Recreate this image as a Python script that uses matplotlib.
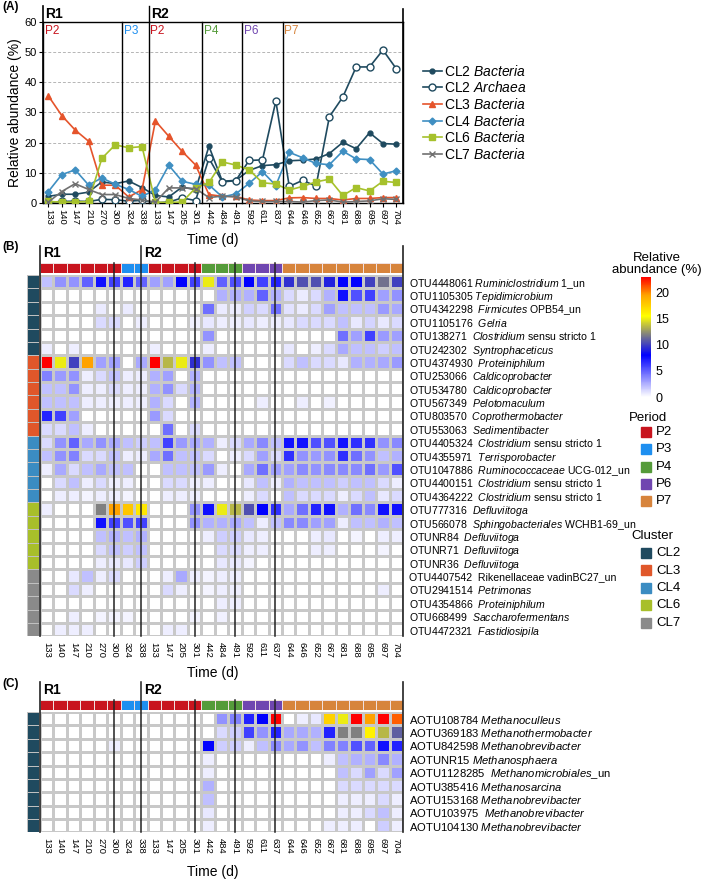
import numpy as np
import matplotlib
matplotlib.use("Agg")
import matplotlib.pyplot as plt
import matplotlib.transforms as mtransforms
from matplotlib.colors import LinearSegmentedColormap, ListedColormap, Normalize
from matplotlib.cm import ScalarMappable
from matplotlib.patches import Rectangle

plt.rcParams['font.family'] = ['Liberation Sans', 'DejaVu Sans']
plt.rcParams['mathtext.fontset'] = 'custom'
plt.rcParams['mathtext.rm'] = 'Liberation Sans'
plt.rcParams['mathtext.it'] = 'Liberation Sans:italic'
plt.rcParams['mathtext.bf'] = 'Liberation Sans:bold'

# ── Sampling days, periods, reactors ─────────────────────────────────────
days_a = ['133', '140', '147', '210', '270', '300', '324', '338',
          '133', '147', '205', '301', '442', '484', '491', '592', '611', '837',
          '644', '646', '652', '667', '681', '688', '695', '697', '704']
days = ['133', '140', '147', '210', '270', '300', '324', '338',
        '133', '147', '205', '301', '442', '484', '491', '592', '611', '637',
        '644', '646', '652', '667', '681', '688', '695', '697', '704']
periods = ['P2'] * 6 + ['P3'] * 2 + ['P2'] * 4 + ['P4'] * 3 + ['P6'] * 3 + ['P7'] * 9
reactors = ['R1'] * 8 + ['R2'] * 19

period_colors = {'P2': '#c8141e', 'P3': '#1e8ff0', 'P4': '#559b3a',
                 'P6': '#7046b0', 'P7': '#d7843c'}
cluster_colors = {'CL2': '#1f4a5f', 'CL3': '#e0572a', 'CL4': '#3b8cc2',
                  'CL6': '#a8bf2a', 'CL7': '#8a8a8a'}

# ── Panel A: cluster abundance (%) ───────────────────────────────────────
cl2_bacteria = [2.2, 2.9, 2.9, 3.6, 7.0, 6.4, 7.3, 5.1, 2.5, 2.0, 5.3, 4.4,
                18.8, 7.2, 7.5, 10.8, 12.4, 12.7, 14.0, 14.2, 14.6, 16.4,
                20.1, 18.0, 23.3, 19.7, 19.5]
cl2_archaea = [0.2, 0.5, 0.6, 0.5, 1.2, 1.1, 0.6, 0.9, 0.1, 0.3, 1.7, 0.8,
               14.8, 7.0, 7.4, 14.1, 14.3, 33.8, 5.5, 7.5, 5.6, 28.6,
               35.1, 45.1, 45.1, 50.7, 44.5]
cl3_bacteria = [35.5, 29.0, 24.2, 20.5, 5.9, 5.9, 2.0, 4.4, 27.2, 22.1, 17.1,
                12.6, 2.8, 2.2, 2.2, 1.0, 0.8, 0.8, 1.7, 1.8, 1.5, 1.5, 1.0,
                1.5, 1.5, 1.8, 1.8]
cl4_bacteria = [3.8, 9.4, 11.0, 6.0, 8.3, 6.2, 4.5, 2.2, 4.4, 12.5, 7.2, 6.2,
                6.0, 2.0, 3.0, 6.5, 10.4, 5.8, 16.8, 15.0, 13.1, 12.7, 17.2,
                14.6, 14.4, 9.6, 10.7]
cl6_bacteria = [0.5, 0.3, 0.3, 0.5, 14.8, 19.3, 18.3, 18.7, 0.2, 0.2, 0.3, 5.0,
                6.8, 13.6, 12.6, 11.0, 6.7, 6.3, 4.3, 5.5, 7.0, 7.9, 2.5, 5.1,
                4.0, 7.2, 6.8]
cl7_bacteria = [0.3, 3.8, 6.4, 4.5, 2.8, 2.8, 1.5, 1.0, 0.3, 5.0, 5.0, 4.8,
                1.8, 2.3, 2.0, 0.7, 0.5, 0.5, 0.5, 0.3, 0.8, 1.0, 0.3, 0.5,
                0.7, 1.4, 1.2]

# ── Panel B: bacterial OTUs ──────────────────────────────────────────────
otu_labels = [
    'OTU4448061 $\\it{Ruminiclostridium}$ 1_un',
    'OTU1105305 $\\it{Tepidimicrobium}$',
    'OTU4342298  $\\it{Firmicutes}$ OPB54_un',
    'OTU1105176  $\\it{Gelria}$',
    'OTU138271  $\\it{Clostridium}$ sensu stricto 1',
    'OTU242302  $\\it{Syntrophaceticus}$',
    'OTU4374930  $\\it{Proteiniphilum}$',
    'OTU253066  $\\it{Caldicoprobacter}$',
    'OTU534780  $\\it{Caldicoprobacter}$',
    'OTU567349  $\\it{Pelotomaculum}$',
    'OTU803570  $\\it{Coprothermobacter}$',
    'OTU553063  $\\it{Sedimentibacter}$',
    'OTU4405324  $\\it{Clostridium}$ sensu stricto 1',
    'OTU4355971  $\\it{Terrisporobacter}$',
    'OTU1047886  $\\it{Ruminococcaceae}$ UCG-012_un',
    'OTU4400151  $\\it{Clostridium}$ sensu stricto 1',
    'OTU4364222  $\\it{Clostridium}$ sensu stricto 1',
    'OTU777316  $\\it{Defluviitoga}$',
    'OTU566078  $\\it{Sphingobacteriales}$ WCHB1-69_un',
    'OTUNR84  $\\it{Defluviitoga}$',
    'OTUNR71  $\\it{Defluviitoga}$',
    'OTUNR36  $\\it{Defluviitoga}$',
    'OTU4407542  Rikenellaceae vadinBC27_un',
    'OTU2941514  $\\it{Petrimonas}$',
    'OTU4354866  $\\it{Proteiniphilum}$',
    'OTU668499  $\\it{Saccharofermentans}$',
    'OTU4472321  $\\it{Fastidiosipila}$',
]
otu_clusters = ['CL2'] * 6 + ['CL3'] * 6 + ['CL4'] * 5 + ['CL6'] * 5 + ['CL7'] * 5
z = [0] * 12
otu_values = [
    [2, 3.5, 3.5, 5, 7.5, 6, 7, 5, 3, 3, 8, 6, 15, 5, 5.5, 8, 6, 7, 9.5, 10.5, 10.5, 9, 8, 8, 10, 11.5, 10],
    z[:] + [0, 2.5, 2.5, 2.5, 5, 2.5, 1.2, 0.7, 1.2, 2.5, 7.5, 5.5, 6, 3, 3.5],
    [0, 0, 0, 0, 0.7, 0, 0.7, 0, 0, 0, 0, 0, 4.5, 0.7, 0.7, 1.5, 1.2, 4.5, 0.9, 0.7, 1.2, 3, 2, 2, 2, 3.2, 2.7],
    [0, 0, 0, 0, 1.2, 1.2, 0, 0.6, 0, 0, 0, 0.5, 0.8, 0.6, 0.6, 0.8, 0.6, 0.6, 0.8, 1.2, 1.2, 1.2, 2, 0.8, 1.4, 0.8, 1.2],
    z[:] + [3.5, 0, 0, 0, 0, 0, 0, 0, 0, 0, 4.5, 3, 6, 3.2, 3],
    [0.6, 0, 0.6, 0, 0, 0, 0, 0, 0.6, 0, 0, 0, 0.6, 0, 0, 0, 0, 0, 0.8, 0, 0.6, 1.2, 2.7, 2, 2, 1.6, 2],
    [23, 15, 10, 19.5, 3, 3, 0, 2.7, 23, 13.5, 15, 9.5, 3.5, 2, 2, 0, 0, 0, 1.2, 2, 1.2, 1.2, 0.8, 2.5, 2.5, 2.7, 3.2],
    [4, 3.2, 3.5, 0.6, 1.2, 2, 0.6, 0.6, 2.5, 3, 0, 2.5] + [0] * 15,
    [2, 2, 3.5, 0.6, 0.6, 1.2, 0.6, 0.6, 2.5, 3.5, 1.2, 2.5] + [0] * 15,
    [2, 2, 2, 0.6, 0.6, 0.6, 0.6, 0.6, 2.5, 1.2, 0, 2.5, 0, 0, 0, 0, 0.6, 0, 0, 0.6, 0, 0.5, 0, 0, 0, 0, 0],
    [7, 6, 3, 0, 0, 0, 0, 0, 3.2, 1.2, 0, 0] + [0] * 15,
    [1.2, 1.2, 2, 0.6, 0, 0, 0, 0, 0, 4.5, 0, 1.2] + [0] * 15,
    [1.2, 3.5, 5, 2.7, 3.5, 2.7, 2, 1.6, 2, 6, 3.2, 2.7, 2.5, 0.6, 1.2, 2.7, 3.7, 2, 7.5, 7.5, 5.5, 5.5, 7.5, 6.5, 6.5, 3.5, 3.7],
    [2, 3.5, 4, 1.2, 1.2, 2, 0.6, 0.6, 2.7, 4.5, 2, 2, 1.2, 0, 0.6, 1.2, 3, 1.2, 6.5, 3.5, 3.2, 3.5, 6.5, 4.5, 3.5, 2, 2.5],
    [0.6, 2.7, 1.2, 2, 2.7, 2, 2, 0, 0, 2, 2, 2, 3.2, 0.6, 0, 2.7, 4.5, 3, 3, 3.7, 3.5, 3.7, 3.7, 3.7, 4.5, 3.2, 5.5],
    [0, 1.2, 2, 0.6, 1.2, 0.6, 0.6, 0, 0, 1.2, 1.2, 0.6, 0.6, 0, 0, 0.8, 2, 0.6, 2.5, 2, 2, 2, 1.6, 2, 2, 1.2, 0.6],
    [0, 0.6, 0.6, 0.4, 0.6, 0.6, 0.4, 0, 0, 0.6, 0.6, 0.6, 0, 0, 0, 0.6, 1.2, 0, 2, 1.2, 1.2, 1.2, 0.6, 1.2, 2, 0.8, 1.2],
    [0.6, 0, 0, 0, 12, 19.5, 18, 16.5, 0, 0, 0, 3.5, 7.5, 15, 13.5, 10.5, 8, 6.5, 2.7, 4.5, 7, 7.5, 2.5, 4.5, 3.7, 7.5, 7.5],
    [0, 0, 0, 0, 7.5, 6, 5.5, 6, 0, 0, 0, 3.5, 2.5, 2.5, 2.7, 2, 0.6, 2, 3.7, 3.7, 3, 3, 0.6, 2, 2, 2.5, 2],
    [0, 0, 0, 0, 2, 2.5, 2, 2.5, 0, 0, 0, 0, 0.6, 1.6, 1.6, 0.8, 0.6, 0, 0, 0, 0.6, 0.8, 0, 0.4, 0, 0.6, 0.6],
    [0, 0, 0, 0, 1.2, 2, 1.6, 2, 0, 0, 0, 0, 0, 1.2, 1.2, 0.6, 0.6, 0, 0, 0, 0.6, 0.6, 0, 0, 0, 0.4, 0],
    [0, 0, 0, 0, 0.6, 0.8, 0.8, 1.6, 0, 0, 0, 0, 0, 0.8, 0.8, 0.4] + [0] * 11,
    [0, 0, 0.8, 2, 0.6, 1.2, 0, 0, 0, 0.6, 2.7, 0.6, 0.4, 0.6, 0.6] + [0] * 12,
    [0, 0, 1.2, 0.6, 0, 0, 0, 0, 0, 1.2, 0.6, 0, 0.4, 0.6, 0.6] + [0] * 10 + [0.6, 0],
    z[:] + [0, 0.6, 0.6] + [0] * 12,
    [0, 0, 0.6, 0, 0.4, 0.4, 0.4, 0, 0, 0, 0, 0.4, 0, 0.5] + [0] * 13,
    [0, 0.6, 0.6, 0.6, 0, 0, 0, 0, 0, 0.6, 0.6] + [0] * 16,
]

# ── Panel C: archaeal OTUs ───────────────────────────────────────────────
aotu_labels = [
    'AOTU108784 $\\it{Methanoculleus}$',
    'AOTU369183 $\\it{Methanothermobacter}$',
    'AOTU842598 $\\it{Methanobrevibacter}$',
    'AOTUNR15 $\\it{Methanosphaera}$',
    'AOTU1128285  $\\it{Methanomicrobiales}$_un',
    'AOTU385416 $\\it{Methanosarcina}$',
    'AOTU153168 $\\it{Methanobrevibacter}$',
    'AOTU103975  $\\it{Methanobrevibacter}$',
    'AOTU104130 $\\it{Methanobrevibacter}$',
]
aotu_clusters = ['CL2'] * 9
aotu_values = [
    z[:] + [0, 3.5, 4, 7, 8, 23, 0, 0.6, 0.8, 17.5, 15, 23, 19.5, 23, 21],
    z[:] + [0, 1.2, 1.6, 6, 3.5, 7, 2.7, 2.7, 2.5, 7, 12, 12, 16, 13.5, 11],
    [0, 0, 0, 0, 0, 0.6, 0, 0, 0, 0, 0, 0, 8, 1.6, 1.6, 0.6, 2, 3.7, 2.7, 3.5, 2, 4, 4, 5.5, 5, 7.5, 7],
    z[:] + [0.6, 0, 0, 0, 0, 0, 0, 0, 0, 0.6, 2, 2.5, 2.5, 3.7, 2.5],
    z[:] + [0.6, 0, 0, 0, 0, 0, 0, 0, 0, 0, 2, 1.2, 3, 1.2, 3],
    z[:] + [2.5, 0, 0, 0, 0, 0, 0, 0, 0, 0, 1.2, 1.2, 1.2, 1.2, 1.2],
    z[:] + [2, 0, 0, 0, 0, 0, 0, 0, 0, 0, 0.6, 0.6, 0.6, 1.2, 0.6],
    z[:] + [0.8, 0, 0, 0, 0, 0, 0, 0, 0, 0, 0.6, 0.6, 1.2, 2, 0.6],
    z[:] + [0.6, 0, 0, 0, 0, 0, 0, 0, 0, 0.6, 0.6, 0.6, 0, 1.6, 0.6],
]

# ── Layout helpers (pixel coordinates of the 709x880 figure) ─────────────
W, H = 709, 880
fig = plt.figure(figsize=(W / 100, H / 100), dpi=100)


def px_axes(x0, y0, x1, y1):
    return fig.add_axes([x0 / W, 1 - y1 / H, (x1 - x0) / W, (y1 - y0) / H])


VMAX = 23
cmap = LinearSegmentedColormap.from_list('abund', [
    (0.0, '#ffffff'), (8 / VMAX, '#0000ff'), (12 / VMAX, '#808080'),
    (15.5 / VMAX, '#ffff00'), (19.5 / VMAX, '#ffa500'), (1.0, '#ff0000')])
norm = Normalize(0, VMAX)

n = len(days)
period_bounds = [i + 0.5 for i in range(n - 1)
                 if periods[i] != periods[i + 1] or reactors[i] != reactors[i + 1]]
reactor_bounds = [i + 0.5 for i in range(n - 1) if reactors[i] != reactors[i + 1]]
period_starts = [0] + [i + 1 for i in range(n - 1)
                       if periods[i] != periods[i + 1] or reactors[i] != reactors[i + 1]]
reactor_starts = [0] + [i + 1 for i in range(n - 1) if reactors[i] != reactors[i + 1]]

# ── (A) line chart ───────────────────────────────────────────────────────
ax = px_axes(43, 22, 403, 203)
x = np.arange(n)
series = [
    ('CL2 $\\it{Bacteria}$', cl2_bacteria, cluster_colors['CL2'], 'o', None, 3.5),
    ('CL2 $\\it{Archaea}$', cl2_archaea, cluster_colors['CL2'], 'o', 'white', 5),
    ('CL3 $\\it{Bacteria}$', cl3_bacteria, '#e5542b', '^', None, 4),
    ('CL4 $\\it{Bacteria}$', cl4_bacteria, '#3f8fc2', 'D', None, 3.5),
    ('CL6 $\\it{Bacteria}$', cl6_bacteria, '#a6c12c', 's', None, 4),
    ('CL7 $\\it{Bacteria}$', cl7_bacteria, '#707070', 'x', None, 4),
]
for label, vals, col, mk, face, ms in series:
    ax.plot(x, vals, color=col, marker=mk, markersize=ms, lw=1.2,
            markerfacecolor=face if face else col, markeredgecolor=col,
            markeredgewidth=1.0, label=label, zorder=3)

ax.set_xlim(-0.4, n - 0.5)
ax.set_ylim(0, 60)
ax.set_yticks(np.arange(0, 61, 10))
ax.tick_params(axis='y', labelsize=8, length=3, pad=1.5)
ax.set_xticks(x)
ax.set_xticklabels(days_a, rotation=270, fontsize=6.8)
ax.tick_params(axis='x', length=3, pad=1.5)
for yv in range(10, 60, 10):
    ax.axhline(yv, color='#b5b5b5', lw=0.7, ls=(0, (3, 2)), zorder=1)
for spine in ax.spines.values():
    spine.set_linewidth(1.0)
ax.set_ylabel('Relative abundance (%)', fontsize=10, labelpad=2)

for b in period_bounds:
    top = 1 + 16 / 181 if b in reactor_bounds else 1
    ax.axvline(b, ymin=0, ymax=top, color='black', lw=1.0, clip_on=False, zorder=4)
ax.axvline(-0.4, ymin=0, ymax=1 + 16 / 181, color='black', lw=1.2, clip_on=False)
ax.axvline(n - 0.5, ymin=0, ymax=1 + 13 / 181, color='black', lw=1.2, clip_on=False)

ta = mtransforms.blended_transform_factory(ax.transData, ax.transAxes)
for s in period_starts:
    ax.text(max(s - 0.5, -0.4) + 0.12, 0.985, periods[s], transform=ta,
            color=period_colors[periods[s]], fontsize=8.5, va='top', ha='left')
for s in reactor_starts:
    ax.text(max(s - 0.5, -0.4) + 0.18, 1.045, reactors[s], transform=ta,
            fontsize=10, fontweight='bold', va='center', ha='left')

fig.legend(loc='upper left', bbox_to_anchor=(417 / W, 1 - 58 / H), frameon=False,
           fontsize=10, handlelength=1.4, handletextpad=0.15, labelspacing=0.12,
           borderaxespad=0)
fig.text(213 / W, 1 - 240 / H, 'Time (d)', fontsize=10, ha='center', va='center')


# ── Heatmap helper for (B) and (C) ───────────────────────────────────────
def heatmap(values, labels, clusters, top, header_top, line_top, r_y, label_size):
    rows = len(values)
    bottom = top + rows * 13.38
    hm = px_axes(40, top, 403, bottom)
    hm.set_zorder(3)
    hm.pcolormesh(np.arange(n + 1), np.arange(rows + 1), np.array(values),
                  cmap=cmap, norm=norm, edgecolors='#c8c8c8', linewidth=0.8)
    hm.set_xlim(0, n)
    hm.set_ylim(rows, 0)
    for sp in hm.spines.values():
        sp.set_visible(False)
    hm.set_xticks(np.arange(n) + 0.5)
    hm.set_xticklabels(days, rotation=270, fontsize=6.8)
    hm.yaxis.tick_right()
    hm.set_yticks(np.arange(rows) + 0.5)
    hm.set_yticklabels(labels, fontsize=label_size)
    hm.tick_params(length=0, pad=4)

    height = bottom - top
    for b in period_bounds:
        tp = line_top if b in reactor_bounds else header_top
        hm.axvline(b, ymin=0, ymax=1 + (top - tp) / height, color='#222222',
                   lw=1.1, clip_on=False)
    for b in (0, n):
        hm.axvline(b, ymin=0, ymax=1 + (top - line_top) / height, color='#222222',
                   lw=1.2, clip_on=False)
    th = mtransforms.blended_transform_factory(hm.transData, hm.transAxes)
    for s in reactor_starts:
        hm.text(s - 0.5 + 0.25 if s else 0.25, 1 + (top - r_y) / height, reactors[s],
                transform=th, fontsize=10, fontweight='bold', va='center', ha='left')

    # period header strip
    hh = px_axes(40, header_top, 403, header_top + 10)
    hh.set_zorder(2)
    pidx = [list(period_colors).index(p) for p in periods]
    hh.pcolormesh(np.arange(n + 1), [0, 1], np.array([pidx]),
                  cmap=ListedColormap(list(period_colors.values())),
                  vmin=-0.5, vmax=len(period_colors) - 0.5,
                  edgecolors='#f0e0e0', linewidth=0.7)
    hh.set_xlim(0, n)
    hh.axis('off')

    # cluster side strip
    hc = px_axes(27, top, 38.5, bottom)
    cidx = [[list(cluster_colors).index(c)] for c in clusters]
    hc.pcolormesh([0, 1], np.arange(rows + 1), np.array(cidx),
                  cmap=ListedColormap(list(cluster_colors.values())),
                  vmin=-0.5, vmax=len(cluster_colors) - 0.5,
                  edgecolors='#c0c0c0', linewidth=0.7)
    hc.set_ylim(rows, 0)
    hc.axis('off')
    return hm


heatmap(otu_values, otu_labels, otu_clusters, 275, 263, 246, 253, 7.6)
fig.text(213 / W, 1 - 673 / H, 'Time (d)', fontsize=10, ha='center', va='center')

heatmap(aotu_values, aotu_labels, aotu_clusters, 712, 700, 682, 690, 8.1)
fig.text(213 / W, 1 - 872 / H, 'Time (d)', fontsize=10, ha='center', va='center')

# panel letters
for lab, yy in (('(A)', 7), ('(B)', 247), ('(C)', 684)):
    fig.text(2 / W, 1 - yy / H, lab, fontsize=8.5, fontweight='bold', va='center')

# ── Colour bar and legends for (B) ───────────────────────────────────────
cax = px_axes(641, 277, 651, 397)
cb = fig.colorbar(ScalarMappable(norm=norm, cmap=cmap), cax=cax, ticks=[0, 5, 10, 15, 20])
cb.outline.set_visible(False)
cax.tick_params(length=0, labelsize=9, pad=3)
fig.text(657 / W, 1 - 264 / H, 'Relative\nabundance (%)', fontsize=9.5,
         ha='center', va='center', linespacing=1.0)

ov = fig.add_axes([0, 0, 1, 1])
ov.set_xlim(0, W)
ov.set_ylim(H, 0)
ov.axis('off')
ov.patch.set_alpha(0)

ov.text(648, 418, 'Period', fontsize=9.5, ha='center', va='center')
for k, (p, col) in enumerate(period_colors.items()):
    yc = 432 + k * 17.3
    ov.add_patch(Rectangle((641, yc - 5), 10, 10, color=col))
    ov.text(656, yc, p, fontsize=9.5, va='center', ha='left')

ov.text(652, 536, 'Cluster', fontsize=9.5, ha='center', va='center')
for k, (c, col) in enumerate(cluster_colors.items()):
    yc = 553 + k * 17.5
    ov.add_patch(Rectangle((641, yc - 5), 10, 10, color=col))
    ov.text(656, yc, c, fontsize=9.5, va='center', ha='left')

fig.savefig('out.png', dpi=100)
